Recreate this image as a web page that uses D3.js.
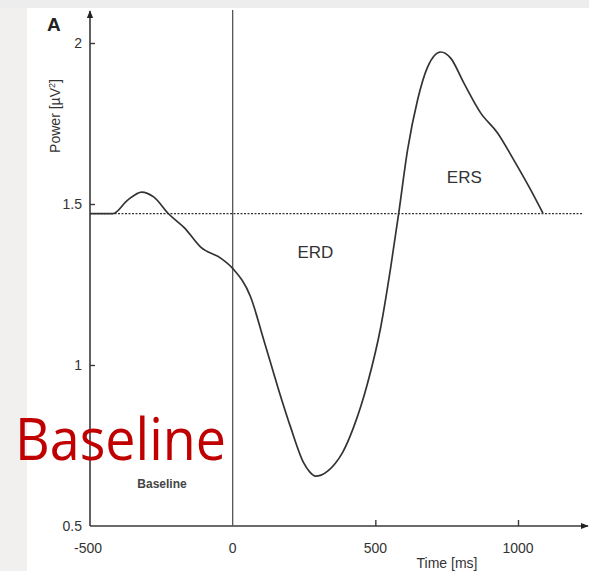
<!DOCTYPE html>
<html>
<head>
<meta charset="utf-8">
<script src="https://cdn.jsdelivr.net/npm/d3@7"></script>
<style>
  html, body { margin: 0; padding: 0; background: #f2efef; }
  svg { display: block; }
</style>
</head>
<body>
<div id="chart"></div>
<script>
// ERD / ERS power curve
const timeMs = [-500, -420, -368, -319, -277, -224, -168, -112, -42, 0, 63, 109, 158, 203, 249, 270, 290, 310,
  335, 360, 385, 424, 473, 519, 554, 582, 613, 648, 683, 729, 764, 810, 869, 929, 985, 1045, 1087];
const power = [1.47, 1.47, 1.512, 1.537, 1.522, 1.469, 1.425, 1.366, 1.332, 1.30, 1.211, 1.078, 0.932, 0.807, 0.696, 0.668, 0.655, 0.658,
  0.672, 0.695, 0.728, 0.807, 0.944, 1.118, 1.304, 1.472, 1.668, 1.823, 1.925, 1.972, 1.953, 1.876, 1.783, 1.720, 1.637, 1.543, 1.472];
const baselineLevel = 1.47;
const xTicks = [-500, 0, 500, 1000];
const yTicks = [0.5, 1, 1.5, 2];
const regionLabels = [
  { text: 'ERD', t: 290, v: 1.35 },
  { text: 'ERS', t: 812, v: 1.585 },
];

const width = 589, height = 571;
const svg = d3.select('#chart').append('svg')
  .attr('width', width)
  .attr('height', height);

// slide background + white figure panel
svg.append('rect').attr('x', 0).attr('y', 0).attr('width', width).attr('height', 8).attr('fill', '#ededee');
svg.append('rect').attr('x', 27).attr('y', 8).attr('width', width - 27).attr('height', height - 8).attr('fill', '#fff');

const x = d3.scaleLinear().domain([-500, 1000]).range([90, 518]);
const y = d3.scaleLinear().domain([0.5, 2]).range([526, 43]);

const ink = '#3a3a3a';
const font = '"Liberation Sans", Arial, sans-serif';

// arrow head marker
svg.append('defs').append('marker')
  .attr('id', 'arrow')
  .attr('viewBox', '0 0 10 10')
  .attr('refX', 9).attr('refY', 5)
  .attr('markerWidth', 8).attr('markerHeight', 8)
  .attr('markerUnits', 'userSpaceOnUse')
  .attr('orient', 'auto')
  .append('path').attr('d', 'M0,1 L10,5 L0,9 Z').attr('fill', '#222');

// axes lines with arrows
svg.append('line')
  .attr('x1', x(-500)).attr('y1', y(0.5))
  .attr('x2', x(-500)).attr('y2', 11)
  .attr('stroke', ink).attr('stroke-width', 1.6)
  .attr('marker-end', 'url(#arrow)');
svg.append('line')
  .attr('x1', x(-500)).attr('y1', y(0.5))
  .attr('x2', 588).attr('y2', y(0.5))
  .attr('stroke', ink).attr('stroke-width', 1.6)
  .attr('marker-end', 'url(#arrow)');

// stimulus onset line
svg.append('line')
  .attr('x1', x(0)).attr('x2', x(0))
  .attr('y1', 10).attr('y2', y(0.5))
  .attr('stroke', '#555').attr('stroke-width', 1.3);

// y ticks
const yAxis = d3.axisRight(y).tickValues(yTicks.slice(1)).tickSize(5).tickFormat('');
svg.append('g')
  .attr('transform', `translate(${x(-500)},0)`)
  .call(yAxis)
  .call(g => g.select('.domain').remove())
  .call(g => g.selectAll('line').attr('stroke', ink).attr('stroke-width', 1.4));

svg.append('g').selectAll('text')
  .data(yTicks)
  .join('text')
  .attr('x', x(-500) - 8)
  .attr('y', d => y(d) + 5)
  .attr('text-anchor', 'end')
  .attr('font-family', font).attr('font-size', 14).attr('fill', '#333')
  .text(d => d);

// x ticks
const xAxis = d3.axisTop(x).tickValues([500, 1000]).tickSize(6).tickFormat('');
svg.append('g')
  .attr('transform', `translate(0,${y(0.5)})`)
  .call(xAxis)
  .call(g => g.select('.domain').remove())
  .call(g => g.selectAll('line').attr('stroke', ink).attr('stroke-width', 1.4));

svg.append('g').selectAll('text')
  .data(xTicks)
  .join('text')
  .attr('x', d => x(d) - (d === -500 ? 2 : 0))
  .attr('y', 553)
  .attr('text-anchor', 'middle')
  .attr('font-family', font).attr('font-size', 14).attr('fill', '#333')
  .text(d => d);

// axis titles
svg.append('text')
  .attr('x', 447).attr('y', 568)
  .attr('text-anchor', 'middle')
  .attr('font-family', font).attr('font-size', 14).attr('fill', '#333')
  .text('Time [ms]');

svg.append('text')
  .attr('transform', 'translate(60,116) rotate(-90)')
  .attr('text-anchor', 'middle')
  .attr('font-family', font).attr('font-size', 14).attr('fill', '#333')
  .html('Power [µV<tspan dy="-5" font-size="9">2</tspan><tspan dy="5">]</tspan>');

svg.append('text')
  .attr('x', 47).attr('y', 31)
  .attr('font-family', font).attr('font-size', 19).attr('font-weight', 'bold').attr('fill', '#222')
  .text('A');

// baseline level (dotted)
svg.append('line')
  .attr('x1', x(-500)).attr('x2', 583)
  .attr('y1', y(baselineLevel)).attr('y2', y(baselineLevel))
  .attr('stroke', '#333').attr('stroke-width', 1.2)
  .attr('stroke-dasharray', '2,1.5');

// power curve
const pts = timeMs.map((t, i) => [t, power[i]]);
const line = d3.line()
  .x(d => x(d[0]))
  .y(d => y(d[1]))
  .curve(d3.curveMonotoneX);

svg.append('path')
  .datum(pts)
  .attr('fill', 'none')
  .attr('stroke', '#333')
  .attr('stroke-width', 1.7)
  .attr('d', line);

// region labels
svg.append('g').selectAll('text')
  .data(regionLabels)
  .join('text')
  .attr('x', d => x(d.t))
  .attr('y', d => y(d.v) + 6)
  .attr('text-anchor', 'middle')
  .attr('font-family', font).attr('font-size', 17).attr('fill', '#333')
  .text(d => d.text);

svg.append('text')
  .attr('x', 162).attr('y', 488)
  .attr('text-anchor', 'middle')
  .attr('font-family', font).attr('font-size', 12).attr('font-weight', 'bold').attr('fill', '#444')
  .text('Baseline');

// big red slide label
svg.append('text')
  .attr('x', 15).attr('y', 460)
  .attr('font-family', '"Open Sans", "Noto Sans", sans-serif').attr('font-size', 58)
  .attr('fill', '#c00000')
  .attr('textLength', 211).attr('lengthAdjust', 'spacingAndGlyphs')
  .text('Baseline');
</script>
</body>
</html>
